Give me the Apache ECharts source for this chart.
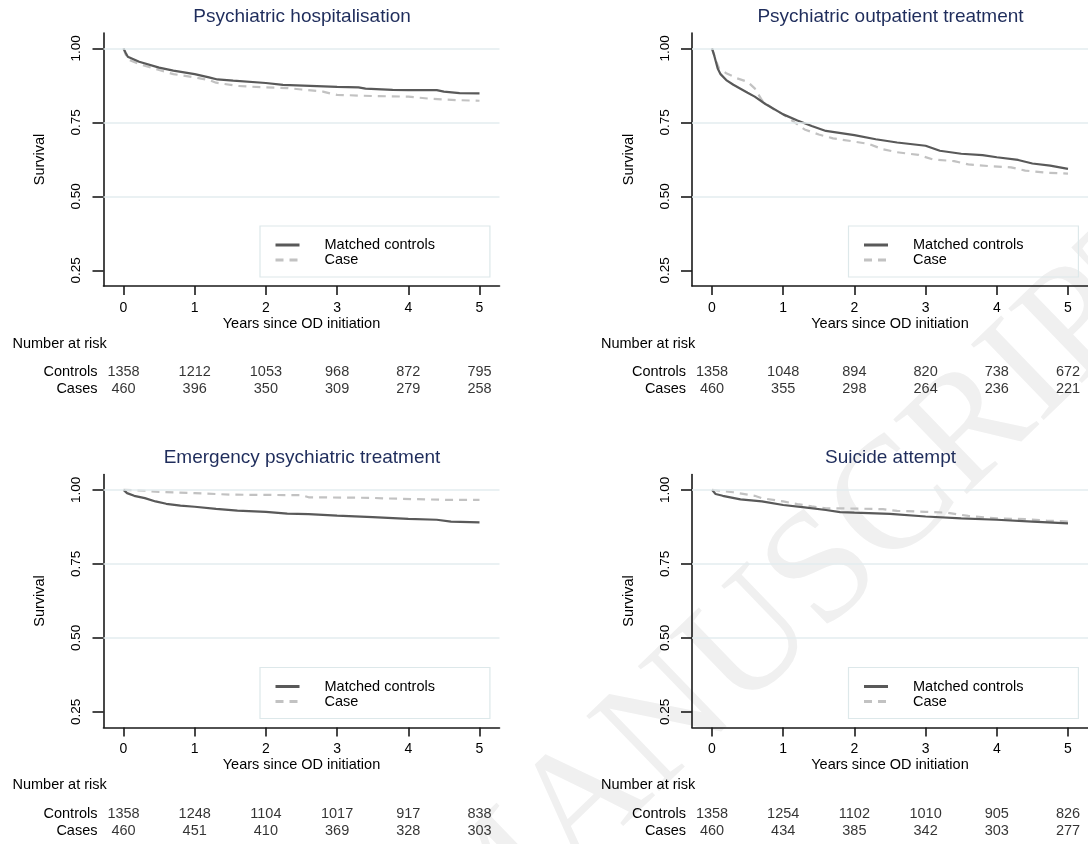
<!DOCTYPE html>
<html>
<head>
<meta charset="utf-8">
<script src="https://cdn.jsdelivr.net/npm/echarts@6/dist/echarts.min.js"></script>
<style>
html,body{margin:0;padding:0;background:#fff;}
#chart{width:1088px;height:844px;}
</style>
</head>
<body>
<div id="chart"></div>
<script>
// ---------- DATA ----------
const panelTitles = ['Psychiatric hospitalisation', 'Psychiatric outpatient treatment', 'Emergency psychiatric treatment', 'Suicide attempt'];
const seriesNames = ['Matched controls', 'Case'];
const riskRowNames = ['Controls', 'Cases'];
const xTicks = [0, 1, 2, 3, 4, 5];
const yTicks = [0.25, 0.5, 0.75, 1.0];
const gridValues = [0.5, 0.75, 1.0];

// Kaplan-Meier survival readings [years, survival]
const hospControls = [[0,1],[0.03,0.985],[0.06,0.972],[0.22,0.955],[0.5,0.935],[0.7,0.925],[1.0,0.913],[1.2,0.902],[1.32,0.895],[1.54,0.891],[2.0,0.883],[2.24,0.877],[3.0,0.870],[3.3,0.868],[3.4,0.864],[3.78,0.860],[4.0,0.859],[4.4,0.859],[4.5,0.854],[4.72,0.849],[5.0,0.848]];
const hospCases = [[0,1],[0.03,0.980],[0.06,0.963],[0.22,0.947],[0.5,0.927],[0.7,0.913],[1.0,0.902],[1.2,0.893],[1.3,0.884],[1.6,0.873],[2.0,0.868],[2.3,0.866],[2.5,0.861],[2.8,0.854],[2.9,0.848],[3.0,0.843],[3.5,0.839],[4.0,0.837],[4.3,0.830],[4.7,0.825],[5.0,0.823]];

const outControls = [[0,1],[0.03,0.977],[0.08,0.932],[0.12,0.913],[0.2,0.893],[0.3,0.877],[0.5,0.850],[0.6,0.837],[0.75,0.812],[1.0,0.777],[1.2,0.756],[1.4,0.738],[1.6,0.721],[2.0,0.707],[2.3,0.693],[2.6,0.682],[3.0,0.671],[3.2,0.654],[3.5,0.644],[3.8,0.639],[4.0,0.632],[4.3,0.623],[4.5,0.611],[4.75,0.604],[5.0,0.593]];
const outCases = [[0,1],[0.05,0.961],[0.1,0.932],[0.2,0.916],[0.35,0.899],[0.5,0.887],[0.6,0.865],[0.7,0.825],[0.85,0.797],[1.0,0.777],[1.15,0.752],[1.3,0.726],[1.5,0.709],[1.7,0.696],[2.0,0.685],[2.2,0.677],[2.4,0.659],[2.6,0.649],[2.9,0.640],[3.1,0.625],[3.4,0.619],[3.6,0.608],[3.9,0.602],[4.2,0.598],[4.4,0.587],[4.7,0.580],[5.0,0.577]];

const emerControls = [[0,1],[0.05,0.989],[0.15,0.980],[0.3,0.972],[0.45,0.961],[0.6,0.953],[0.8,0.947],[1.0,0.943],[1.3,0.936],[1.6,0.930],[2.0,0.926],[2.3,0.920],[2.6,0.918],[3.0,0.913],[3.5,0.908],[4.0,0.902],[4.4,0.899],[4.6,0.893],[5.0,0.890]];
const emerCases = [[0,1],[0.3,0.997],[0.5,0.993],[1.0,0.989],[1.5,0.984],[2.5,0.982],[2.6,0.975],[3.5,0.973],[3.7,0.971],[4.6,0.966],[5.0,0.966]];

const suicControls = [[0,1],[0.05,0.986],[0.15,0.980],[0.4,0.968],[0.7,0.961],[1.0,0.949],[1.3,0.941],[1.6,0.932],[1.8,0.925],[2.0,0.923],[2.5,0.919],[3.0,0.910],[3.5,0.904],[4.0,0.899],[4.5,0.893],[5.0,0.887]];
const suicCases = [[0,1],[0.3,0.992],[0.6,0.980],[0.7,0.972],[1.0,0.961],[1.2,0.952],[1.4,0.944],[1.6,0.938],[2.0,0.937],[2.4,0.935],[2.6,0.929],[3.0,0.926],[3.3,0.923],[3.6,0.912],[4.0,0.904],[4.4,0.901],[4.7,0.896],[5.0,0.893]];

// Number at risk at years 0..5
const hospRiskControls = [1358, 1212, 1053, 968, 872, 795];
const hospRiskCases = [460, 396, 350, 309, 279, 258];
const outRiskControls = [1358, 1048, 894, 820, 738, 672];
const outRiskCases = [460, 355, 298, 264, 236, 221];
const emerRiskControls = [1358, 1248, 1104, 1017, 917, 838];
const emerRiskCases = [460, 451, 410, 369, 328, 303];
const suicRiskControls = [1358, 1254, 1102, 1010, 905, 826];
const suicRiskCases = [460, 434, 385, 342, 303, 277];

// ---------- LAYOUT ----------
const FONT = '"Liberation Sans", Arial, sans-serif';
const panels = [
  {title: panelTitles[0], ctrl: hospControls, cases: hospCases, rc: hospRiskControls, rk: hospRiskCases, dx: 0, dy: 0},
  {title: panelTitles[1], ctrl: outControls, cases: outCases, rc: outRiskControls, rk: outRiskCases, dx: 588.5, dy: 0},
  {title: panelTitles[2], ctrl: emerControls, cases: emerCases, rc: emerRiskControls, rk: emerRiskCases, dx: 0, dy: 441.5},
  {title: panelTitles[3], ctrl: suicControls, cases: suicCases, rc: suicRiskControls, rk: suicRiskCases, dx: 588.5, dy: 441.5}
];

const GL = 103.5, GT = 33, GW = 396, GH = 253;
const XMIN = -0.281, XMAX = 5.281, YMIN = 0.197, YMAX = 1.052;

const title = [], grid = [], xAxis = [], yAxis = [], series = [], legend = [];

panels.forEach((p, i) => {
  const cg = 2 * i, tg = 2 * i + 1;
  title.push({
    text: p.title, left: 302 + p.dx, top: 7 + p.dy, textAlign: 'center', padding: 0,
    textStyle: {fontSize: 19, fontWeight: 'normal', color: '#1f2d5c', fontFamily: FONT}
  });
  title.push({
    text: 'Number at risk', left: 12.5 + p.dx, top: 336 + p.dy, padding: 0,
    textStyle: {fontSize: 14.5, fontWeight: 'normal', color: '#000', fontFamily: FONT}
  });
  grid.push({left: GL + p.dx, top: GT + p.dy, width: GW, height: GH, containLabel: false});
  grid.push({left: GL + p.dx, top: 363.5 + p.dy, width: GW, height: 34, containLabel: false});

  xAxis.push({
    type: 'value', gridIndex: cg, min: XMIN, max: XMAX,
    name: 'Years since OD initiation', nameLocation: 'middle', nameGap: 30,
    nameTextStyle: {fontSize: 14.5, color: '#000', fontFamily: FONT},
    axisLine: {show: true, onZero: false, lineStyle: {color: '#1a1a1a', width: 1.6}},
    axisTick: {show: true, length: 9, customValues: xTicks, lineStyle: {color: '#1a1a1a', width: 1.6}},
    axisLabel: {customValues: xTicks, margin: 15, fontSize: 14, color: '#000', fontFamily: FONT},
    splitLine: {show: false}
  });
  xAxis.push({type: 'value', gridIndex: tg, min: XMIN, max: XMAX, show: false});

  yAxis.push({
    type: 'value', gridIndex: cg, min: YMIN, max: YMAX,
    name: 'Survival', nameLocation: 'middle', nameGap: 56,
    nameTextStyle: {fontSize: 14.5, color: '#000', fontFamily: FONT},
    axisLine: {show: true, onZero: false, lineStyle: {color: '#1a1a1a', width: 1.6}},
    axisTick: {show: true, length: 11, customValues: yTicks, lineStyle: {color: '#1a1a1a', width: 1.6}},
    axisLabel: {customValues: yTicks, rotate: 90, margin: 20, fontSize: 13.5, color: '#000', fontFamily: FONT,
      formatter: v => Number(v).toFixed(2)},
    splitLine: {show: false}
  });
  yAxis.push({
    type: 'category', gridIndex: tg, data: riskRowNames, inverse: true,
    axisLine: {show: false}, axisTick: {show: false},
    axisLabel: {interval: 0, margin: 6, fontSize: 14.5, color: '#000', fontFamily: FONT}
  });

  // grid lines
  series.push({
    type: 'line', xAxisIndex: cg, yAxisIndex: cg, data: [], z: 1, silent: true,
    markLine: {
      silent: true, symbol: ['none', 'none'], label: {show: false},
      lineStyle: {color: '#e3edef', width: 1.6, type: 'solid'},
      emphasis: {disabled: true},
      data: gridValues.map(v => ({yAxis: v}))
    }
  });
  series.push({
    name: seriesNames[1], type: 'line', xAxisIndex: cg, yAxisIndex: cg, data: p.cases,
    symbol: 'none', showSymbol: false, z: 3,
    lineStyle: {color: '#c2c2c2', width: 2.2, type: [8, 6]}, itemStyle: {color: '#c2c2c2'},
    emphasis: {disabled: true}
  });
  series.push({
    name: seriesNames[0], type: 'line', xAxisIndex: cg, yAxisIndex: cg, data: p.ctrl,
    symbol: 'none', showSymbol: false, z: 4,
    lineStyle: {color: '#595959', width: 2.2, type: 'solid'}, itemStyle: {color: '#595959'},
    emphasis: {disabled: true}
  });
  // number at risk table
  series.push({
    type: 'scatter', xAxisIndex: tg, yAxisIndex: tg, symbolSize: 1, silent: true,
    itemStyle: {color: 'transparent'},
    label: {show: true, position: 'inside', formatter: d => String(d.data[2]), fontSize: 14.5, color: '#000', fontFamily: FONT},
    data: xTicks.map((x, k) => [x, riskRowNames[0], p.rc[k]]).concat(xTicks.map((x, k) => [x, riskRowNames[1], p.rk[k]]))
  });

  legend.push({
    data: seriesNames, orient: 'vertical', left: 260 + p.dx, top: 226 + p.dy,
    padding: [11.5, 55, 9.5, 14], itemWidth: 24, itemHeight: 13, itemGap: 0,
    borderColor: '#dde8ea', borderWidth: 1.2, backgroundColor: 'transparent',
    selectedMode: false,
    itemStyle: {opacity: 0, borderWidth: 0},
    lineStyle: {width: 3},
    textStyle: {fontSize: 14.5, color: '#000', fontFamily: FONT, lineHeight: 15, padding: [0, 0, 0, 20]}
  });
});

const chart = echarts.init(document.getElementById('chart'), null, {renderer: 'canvas'});
chart.setOption({
  animation: false,
  backgroundColor: '#ffffff',
  title, grid, xAxis, yAxis, series, legend,
  graphic: [{
    type: 'text', x: 1183, y: 227, rotation: 44 * Math.PI / 180, z: 0, silent: true,
    style: {text: 'ACCEPTED MANUSCRIPT', fontSize: 160, fontFamily: '"Liberation Serif", "Times New Roman", serif',
      fill: '#f0f0f0', align: 'right', verticalAlign: 'middle'}
  }]
});
</script>
</body>
</html>
